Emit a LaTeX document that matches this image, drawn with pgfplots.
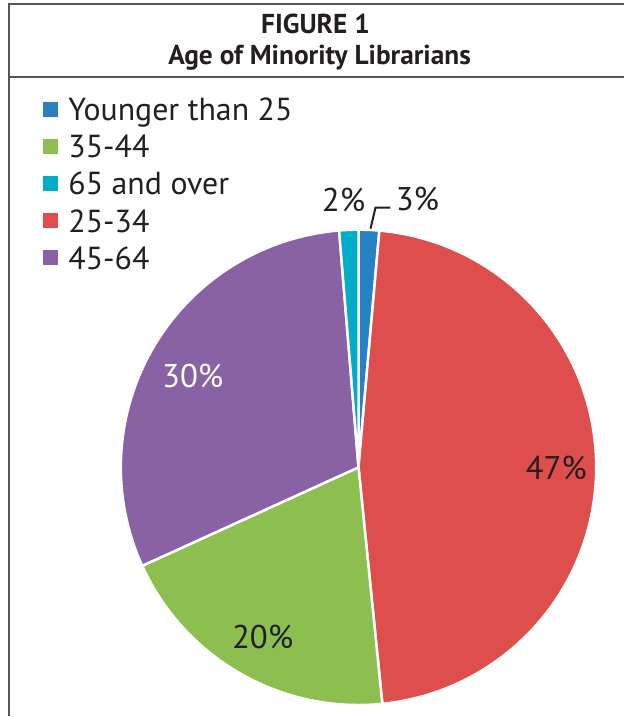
\documentclass[border=0pt]{standalone}
\usepackage{fontspec}
\setmainfont{PT Sans}
\usepackage{pgfplots}
\pgfplotsset{compat=1.18}
\usepackage{pgfplotstable}

\definecolor{cYoung}{RGB}{41,128,196}
\definecolor{cA}{RGB}{222,78,76}
\definecolor{cB}{RGB}{140,191,80}
\definecolor{cC}{RGB}{137,98,166}
\definecolor{cOld}{RGB}{0,172,200}
\definecolor{txt}{RGB}{35,31,32}
\definecolor{frame}{RGB}{85,85,85}

% slices clockwise from 12 o'clock; pct = printed label, lx/ly = label position (px from top left)
\pgfplotstableread[col sep=comma]{
slice,value,color,pct,lx,ly,lcolor
Younger than 25,1.4,cYoung,3,418,199,txt
25-34,47.0,cA,47,557,469,txt
35-44,19.8,cB,20,263,638,txt
45-64,30.5,cC,30,193,377,white
65 and over,1.3,cOld,2,344,200,txt
}\piedata
\pgfplotstablecreatecol[create col/expr accum={\pgfmathaccuma + \thisrow{value}}{0}]{cum}{\piedata}

\begin{document}
\begin{tikzpicture}
\begin{axis}[
  scale only axis, width=625bp, height=717bp,
  xmin=0, xmax=625, ymin=0, ymax=717,
  hide axis, clip=false,
  legend cell align=left,
  legend style={at={(axis cs:43,621)}, anchor=north west, draw=none, fill=none,
    font=\fontsize{32}{36}\selectfont\color{txt}, row sep=9bp, column sep=9bp, inner sep=0pt},
  legend image code/.code={\fill[#1] (0bp,-6bp) rectangle (14bp,8bp);},
]
\path (axis cs:0,0) rectangle (axis cs:625,717);

% frame
\draw[frame, line width=2bp] (axis cs:9,0) -- (axis cs:9,713) -- (axis cs:625,713);
\draw[frame, line width=2bp] (axis cs:9,640) -- (axis cs:625,640);
\node[txt, font=\bfseries\fontsize{27.5}{30}\selectfont] at (axis cs:316,693) {FIGURE 1};
\node[txt, font=\bfseries\fontsize{27.5}{30}\selectfont] at (axis cs:320,659) {Age of Minority Librarians};

% pie
\pgfplotsinvokeforeach{0,...,4}{
  \pgfplotstablegetelem{#1}{cum}\of\piedata \let\cumv\pgfplotsretval
  \pgfplotstablegetelem{#1}{value}\of\piedata \let\val\pgfplotsretval
  \pgfplotstablegetelem{#1}{color}\of\piedata \let\col\pgfplotsretval
  \pgfplotstablegetelem{#1}{pct}\of\piedata \let\pct\pgfplotsretval
  \pgfplotstablegetelem{#1}{lx}\of\piedata \let\lx\pgfplotsretval
  \pgfplotstablegetelem{#1}{ly}\of\piedata \let\lyraw\pgfplotsretval
  \pgfplotstablegetelem{#1}{lcolor}\of\piedata \let\lcol\pgfplotsretval
  \pgfmathsetmacro\aS{90-3.6*(\cumv-\val)}
  \pgfmathsetmacro\aE{90-3.6*\cumv}
  \pgfmathsetmacro\ly{717-\lyraw}
  \edef\temp{\noexpand\fill[\col, draw=white, line width=2.5bp] (axis cs:359,249) -- ++(\aS:238bp)
    arc[start angle=\aS, end angle=\aE, radius=238bp] -- cycle;
    \noexpand\node[\lcol, font=\noexpand\fontsize{33}{36}\noexpand\selectfont] at (axis cs:\lx,\ly) {\pct\noexpand\%};}
  \temp
}
\draw[txt, line width=2bp] (axis cs:371,488) -- (axis cs:376,509) -- (axis cs:391,509);

\addlegendimage{cYoung}
\addlegendimage{cB}
\addlegendimage{cOld}
\addlegendimage{cA}
\addlegendimage{cC}
\legend{Younger than 25, 35-44, 65 and over, 25-34, 45-64}
\end{axis}
\end{tikzpicture}
\end{document}
